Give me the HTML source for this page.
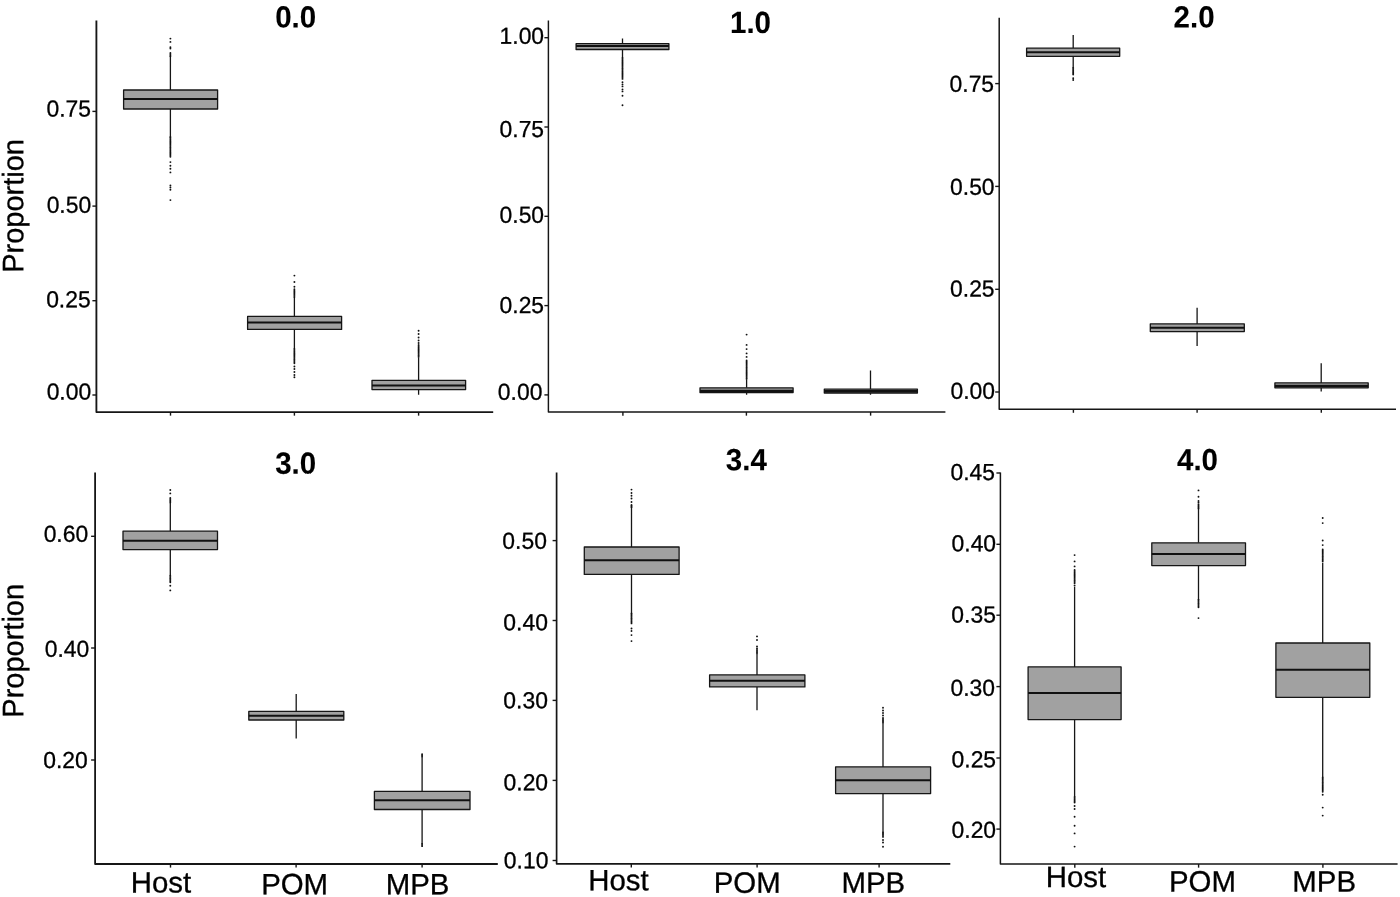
<!DOCTYPE html>
<html lang="en"><head><meta charset="utf-8"><title>Proportion box plots</title>
<style>html,body{margin:0;padding:0;background:#fff}svg{display:block}text{font-family:"Liberation Sans",Arial,Helvetica,sans-serif;text-rendering:geometricPrecision;fill:#000;stroke:#000;stroke-width:0.3px}.yl{font-size:22.9px;text-anchor:end}.xl{font-size:29.4px;text-anchor:middle}.tt{font-size:29.5px;font-weight:bold;text-anchor:middle;stroke-width:0.1px}.ax{stroke:#161616;stroke-width:1.6;fill:none;stroke-linejoin:round}.tk{stroke:#161616;stroke-width:1.4;fill:none}.bx{fill:#a1a1a1;stroke:#161616;stroke-width:1.3;stroke-linejoin:round}.md{stroke:#111;stroke-width:2;fill:none}.wk{stroke:#161616;stroke-width:1.3;fill:none}.pt{fill:#111}</style></head><body>
<svg width="1400" height="897" viewBox="0 0 1400 897">
<rect width="1400" height="897" fill="#fff"/>
<text transform="translate(23.3,205.9) rotate(-90.03) scale(1,1.02)" style="font-size:29.0px;text-anchor:middle">Proportion</text>
<text transform="translate(23.3,650.8) rotate(-90.03) scale(1,1.02)" style="font-size:29.0px;text-anchor:middle">Proportion</text>
<g>
<path class="ax" style="stroke-width:1.85" d="M96.4,20.5V412.05H493.2"/>
<path class="tk" d="M92.4,111.4H96.4"/>
<text class="yl" transform="translate(91.0,116.45) rotate(0.03) scale(1,1.01)">0.75</text>
<path class="tk" d="M92.4,206.1H96.4"/>
<text class="yl" transform="translate(91.2,212.75) rotate(0.03) scale(1,1.01)">0.50</text>
<path class="tk" d="M92.4,300.7H96.4"/>
<text class="yl" transform="translate(90.7,307.25) rotate(0.03) scale(1,1.01)">0.25</text>
<path class="tk" d="M92.4,395.0H96.4"/>
<text class="yl" transform="translate(91.2,399.55) rotate(0.03) scale(1,1.01)">0.00</text>
<path class="tk" d="M170.5,412.05V415.65000000000003"/>
<path class="tk" d="M294.4,412.05V415.65000000000003"/>
<path class="tk" d="M418.6,412.05V415.65000000000003"/>
<text class="tt" transform="translate(295.7,27.6) rotate(0.03) scale(1,1.04)">0.0</text>
<path class="wk" d="M170.4,56V90M170.4,109V138"/>
<rect class="bx" x="123.6" y="90" width="94.0" height="19.0"/>
<path class="md" style="stroke-width:2" d="M123.6,98.9H217.6"/>
<g class="pt"><circle cx="170.4" cy="38.6" r="0.95"/><circle cx="170.4" cy="41.9" r="0.95"/><circle cx="170.4" cy="47.2" r="0.95"/><circle cx="170.4" cy="48.6" r="0.95"/><circle cx="170.4" cy="162.1" r="0.95"/><circle cx="170.4" cy="165.8" r="0.95"/><circle cx="170.4" cy="168.8" r="0.95"/><circle cx="170.4" cy="172.4" r="0.95"/><circle cx="170.4" cy="185.5" r="0.95"/><circle cx="170.4" cy="187.5" r="0.95"/><circle cx="170.4" cy="189.7" r="0.95"/><circle cx="170.4" cy="200.1" r="0.95"/><circle cx="170.4" cy="53.0" r="0.92"/><circle cx="170.4" cy="54.1" r="0.92"/><circle cx="170.4" cy="55.2" r="0.92"/><circle cx="170.4" cy="56.3" r="0.92"/><circle cx="170.4" cy="137.0" r="0.92"/><circle cx="170.4" cy="138.1" r="0.92"/><circle cx="170.4" cy="139.2" r="0.92"/><circle cx="170.4" cy="140.3" r="0.92"/><circle cx="170.4" cy="141.4" r="0.92"/><circle cx="170.4" cy="142.5" r="0.92"/><circle cx="170.4" cy="143.6" r="0.92"/><circle cx="170.4" cy="144.7" r="0.92"/><circle cx="170.4" cy="145.8" r="0.92"/><circle cx="170.4" cy="146.9" r="0.92"/><circle cx="170.4" cy="148.0" r="0.92"/><circle cx="170.4" cy="149.1" r="0.92"/><circle cx="170.4" cy="150.2" r="0.92"/><circle cx="170.4" cy="151.3" r="0.92"/><circle cx="170.4" cy="152.4" r="0.92"/><circle cx="170.4" cy="153.5" r="0.92"/><circle cx="170.4" cy="154.6" r="0.92"/><circle cx="170.4" cy="155.7" r="0.92"/><circle cx="170.4" cy="156.8" r="0.92"/></g>
<path class="wk" d="M294.4,297V316.4M294.4,329.4V349"/>
<rect class="bx" x="247.6" y="316.4" width="94.0" height="13.0"/>
<path class="md" style="stroke-width:2" d="M247.6,322.6H341.6"/>
<g class="pt"><circle cx="294.4" cy="275.6" r="0.95"/><circle cx="294.4" cy="282.0" r="0.95"/><circle cx="294.4" cy="286.7" r="0.95"/><circle cx="294.4" cy="366.5" r="0.95"/><circle cx="294.4" cy="369.0" r="0.95"/><circle cx="294.4" cy="372.0" r="0.95"/><circle cx="294.4" cy="375.0" r="0.95"/><circle cx="294.4" cy="377.3" r="0.95"/><circle cx="294.4" cy="289.2" r="0.92"/><circle cx="294.4" cy="290.3" r="0.92"/><circle cx="294.4" cy="291.4" r="0.92"/><circle cx="294.4" cy="292.5" r="0.92"/><circle cx="294.4" cy="293.6" r="0.92"/><circle cx="294.4" cy="294.7" r="0.92"/><circle cx="294.4" cy="295.8" r="0.92"/><circle cx="294.4" cy="296.9" r="0.92"/><circle cx="294.4" cy="349.0" r="0.92"/><circle cx="294.4" cy="350.1" r="0.92"/><circle cx="294.4" cy="351.2" r="0.92"/><circle cx="294.4" cy="352.3" r="0.92"/><circle cx="294.4" cy="353.4" r="0.92"/><circle cx="294.4" cy="354.5" r="0.92"/><circle cx="294.4" cy="355.6" r="0.92"/><circle cx="294.4" cy="356.7" r="0.92"/><circle cx="294.4" cy="357.8" r="0.92"/><circle cx="294.4" cy="358.9" r="0.92"/><circle cx="294.4" cy="360.0" r="0.92"/><circle cx="294.4" cy="361.1" r="0.92"/><circle cx="294.4" cy="362.2" r="0.92"/><circle cx="294.4" cy="363.3" r="0.92"/></g>
<path class="wk" d="M418.6,358V380.3M418.6,389.6V394.8"/>
<rect class="bx" x="372" y="380.3" width="93.6" height="9.3"/>
<path class="md" style="stroke-width:2" d="M372,385.6H465.6"/>
<g class="pt"><circle cx="418.6" cy="330.8" r="0.95"/><circle cx="418.6" cy="334.0" r="0.95"/><circle cx="418.6" cy="337.5" r="0.95"/><circle cx="418.6" cy="340.5" r="0.95"/><circle cx="418.6" cy="343.0" r="0.95"/><circle cx="418.6" cy="345.0" r="0.92"/><circle cx="418.6" cy="346.1" r="0.92"/><circle cx="418.6" cy="347.2" r="0.92"/><circle cx="418.6" cy="348.3" r="0.92"/><circle cx="418.6" cy="349.4" r="0.92"/><circle cx="418.6" cy="350.5" r="0.92"/><circle cx="418.6" cy="351.6" r="0.92"/><circle cx="418.6" cy="352.7" r="0.92"/><circle cx="418.6" cy="353.8" r="0.92"/><circle cx="418.6" cy="354.9" r="0.92"/><circle cx="418.6" cy="356.0" r="0.92"/><circle cx="418.6" cy="357.1" r="0.92"/></g>
</g>
<g>
<path class="ax" style="stroke-width:1.45" d="M548.4,20.5V412.05H945.4"/>
<path class="tk" d="M544.4,37.7H548.4"/>
<text class="yl" transform="translate(544.1,43.85) rotate(0.03) scale(1,1.01)">1.00</text>
<path class="tk" d="M544.4,127.0H548.4"/>
<text class="yl" transform="translate(544.1,137.05) rotate(0.03) scale(1,1.01)">0.75</text>
<path class="tk" d="M544.4,216.3H548.4"/>
<text class="yl" transform="translate(544.1,222.75) rotate(0.03) scale(1,1.01)">0.50</text>
<path class="tk" d="M544.4,305.6H548.4"/>
<text class="yl" transform="translate(544.1,312.95) rotate(0.03) scale(1,1.01)">0.25</text>
<path class="tk" d="M544.4,394.9H548.4"/>
<text class="yl" transform="translate(542.4,399.65) rotate(0.03) scale(1,1.01)">0.00</text>
<path class="tk" d="M622.9,412.05V415.65000000000003"/>
<path class="tk" d="M746.4,412.05V415.65000000000003"/>
<path class="tk" d="M870.6,412.05V415.65000000000003"/>
<text class="tt" transform="translate(750.5,33) rotate(0.03) scale(1,1.04)">1.0</text>
<path class="wk" d="M622.5,38.4V43.7M622.5,49.5V58"/>
<rect class="bx" x="576.1" y="43.7" width="92.8" height="5.8"/>
<path class="md" style="stroke-width:2" d="M576.1,45.9H668.9"/>
<g class="pt"><circle cx="622.5" cy="82.2" r="0.95"/><circle cx="622.5" cy="84.4" r="0.95"/><circle cx="622.5" cy="86.4" r="0.95"/><circle cx="622.5" cy="89.4" r="0.95"/><circle cx="622.5" cy="91.4" r="0.95"/><circle cx="622.5" cy="95.7" r="0.95"/><circle cx="622.5" cy="105.2" r="0.95"/><circle cx="622.5" cy="58.0" r="0.92"/><circle cx="622.5" cy="59.1" r="0.92"/><circle cx="622.5" cy="60.2" r="0.92"/><circle cx="622.5" cy="61.3" r="0.92"/><circle cx="622.5" cy="62.4" r="0.92"/><circle cx="622.5" cy="63.5" r="0.92"/><circle cx="622.5" cy="64.6" r="0.92"/><circle cx="622.5" cy="65.7" r="0.92"/><circle cx="622.5" cy="66.8" r="0.92"/><circle cx="622.5" cy="67.9" r="0.92"/><circle cx="622.5" cy="69.0" r="0.92"/><circle cx="622.5" cy="70.1" r="0.92"/><circle cx="622.5" cy="71.2" r="0.92"/><circle cx="622.5" cy="72.3" r="0.92"/><circle cx="622.5" cy="73.4" r="0.92"/><circle cx="622.5" cy="74.5" r="0.92"/><circle cx="622.5" cy="75.6" r="0.92"/><circle cx="622.5" cy="76.7" r="0.92"/><circle cx="622.5" cy="77.8" r="0.92"/><circle cx="622.5" cy="78.9" r="0.92"/></g>
<path class="wk" d="M746.6,380V387.8M746.6,392.6V394.8"/>
<rect class="bx" x="700.0" y="387.8" width="93.1" height="4.8"/>
<path class="md" style="stroke-width:2.6" d="M700.0,391.0H793.1"/>
<g class="pt"><circle cx="746.6" cy="334.6" r="0.95"/><circle cx="746.6" cy="344.9" r="0.95"/><circle cx="746.6" cy="349.1" r="0.95"/><circle cx="746.6" cy="353.4" r="0.95"/><circle cx="746.6" cy="356.9" r="0.95"/><circle cx="746.6" cy="360.3" r="0.92"/><circle cx="746.6" cy="361.4" r="0.92"/><circle cx="746.6" cy="362.5" r="0.92"/><circle cx="746.6" cy="363.6" r="0.92"/><circle cx="746.6" cy="364.7" r="0.92"/><circle cx="746.6" cy="365.8" r="0.92"/><circle cx="746.6" cy="366.9" r="0.92"/><circle cx="746.6" cy="368.0" r="0.92"/><circle cx="746.6" cy="369.1" r="0.92"/><circle cx="746.6" cy="370.2" r="0.92"/><circle cx="746.6" cy="371.3" r="0.92"/><circle cx="746.6" cy="372.4" r="0.92"/><circle cx="746.6" cy="373.5" r="0.92"/><circle cx="746.6" cy="374.6" r="0.92"/><circle cx="746.6" cy="375.7" r="0.92"/><circle cx="746.6" cy="376.8" r="0.92"/><circle cx="746.6" cy="377.9" r="0.92"/><circle cx="746.6" cy="379.0" r="0.92"/></g>
<path class="wk" d="M870.5,370.6V389.2M870.5,393.1V394.8"/>
<rect class="bx" x="824.3" y="389.2" width="93.1" height="3.9"/>
<path class="md" style="stroke-width:2.8" d="M824.3,391.3H917.4"/>
</g>
<g>
<path class="ax" style="stroke-width:1.5" d="M999.2,17.8V409.2H1396.0"/>
<path class="tk" d="M995.2,83.6H999.2"/>
<text class="yl" transform="translate(994.1,91.65) rotate(0.03) scale(1,1.01)">0.75</text>
<path class="tk" d="M995.2,186.4H999.2"/>
<text class="yl" transform="translate(994.6,194.65) rotate(0.03) scale(1,1.01)">0.50</text>
<path class="tk" d="M995.2,289.3H999.2"/>
<text class="yl" transform="translate(994.6,296.55) rotate(0.03) scale(1,1.01)">0.25</text>
<path class="tk" d="M995.2,392.0H999.2"/>
<text class="yl" transform="translate(995.0,398.65) rotate(0.03) scale(1,1.01)">0.00</text>
<path class="tk" d="M1073.4,409.2V412.8"/>
<path class="tk" d="M1197.1,409.2V412.8"/>
<path class="tk" d="M1321.3,409.2V412.8"/>
<text class="tt" transform="translate(1194.1,27.6) rotate(0.03) scale(1,1.04)">2.0</text>
<path class="wk" d="M1073.2,35.1V48.2M1073.2,56.3V68"/>
<rect class="bx" x="1026.6" y="48.2" width="93.1" height="8.1"/>
<path class="md" style="stroke-width:2" d="M1026.6,52.3H1119.7"/>
<g class="pt"><circle cx="1073.2" cy="78.2" r="0.95"/><circle cx="1073.2" cy="80.0" r="0.95"/><circle cx="1073.2" cy="68.0" r="0.92"/><circle cx="1073.2" cy="69.1" r="0.92"/><circle cx="1073.2" cy="70.2" r="0.92"/><circle cx="1073.2" cy="71.3" r="0.92"/><circle cx="1073.2" cy="72.4" r="0.92"/><circle cx="1073.2" cy="73.5" r="0.92"/><circle cx="1073.2" cy="74.6" r="0.92"/></g>
<path class="wk" d="M1197.1,307.7V323.9M1197.1,331.6V345.9"/>
<rect class="bx" x="1150.3" y="323.9" width="94.0" height="7.7"/>
<path class="md" style="stroke-width:2" d="M1150.3,327.7H1244.3"/>
<path class="wk" d="M1321.2,363.3V382.9M1321.2,387.8V391.6"/>
<rect class="bx" x="1274.9" y="382.9" width="93.3" height="4.9"/>
<path class="md" style="stroke-width:2.6" d="M1274.9,386.0H1368.2"/>
</g>
<g>
<path class="ax" style="stroke-width:1.8" d="M95.1,472.6V864.0H497.8"/>
<path class="tk" d="M91.1,536.3H95.1"/>
<text class="yl" transform="translate(88.2,541.65) rotate(0.03) scale(1,1.01)">0.60</text>
<path class="tk" d="M91.1,648.0H95.1"/>
<text class="yl" transform="translate(89.3,656.65) rotate(0.03) scale(1,1.01)">0.40</text>
<path class="tk" d="M91.1,760.0H95.1"/>
<text class="yl" transform="translate(87.8,767.95) rotate(0.03) scale(1,1.01)">0.20</text>
<path class="tk" d="M170.5,864.0V867.6"/>
<path class="tk" d="M296.1,864.0V867.6"/>
<path class="tk" d="M422.1,864.0V867.6"/>
<text class="tt" transform="translate(295.7,473.7) rotate(0.03) scale(1,1.04)">3.0</text>
<text class="xl" transform="translate(160.9,892.5) rotate(0.03)">Host</text>
<text class="xl" transform="translate(294.6,894.3) rotate(0.03)">POM</text>
<text class="xl" transform="translate(417.6,894.3) rotate(0.03)">MPB</text>
<path class="wk" d="M170.3,503V531.2M170.3,549.6V575.7"/>
<rect class="bx" x="123.0" y="531.2" width="94.5" height="18.4"/>
<path class="md" style="stroke-width:2" d="M123.0,540.8H217.5"/>
<g class="pt"><circle cx="170.3" cy="490.0" r="0.95"/><circle cx="170.3" cy="493.4" r="0.95"/><circle cx="170.3" cy="585.7" r="0.95"/><circle cx="170.3" cy="590.4" r="0.95"/><circle cx="170.3" cy="498.0" r="0.92"/><circle cx="170.3" cy="499.1" r="0.92"/><circle cx="170.3" cy="500.2" r="0.92"/><circle cx="170.3" cy="501.3" r="0.92"/><circle cx="170.3" cy="502.4" r="0.92"/><circle cx="170.3" cy="575.7" r="0.92"/><circle cx="170.3" cy="576.8" r="0.92"/><circle cx="170.3" cy="577.9" r="0.92"/><circle cx="170.3" cy="579.0" r="0.92"/><circle cx="170.3" cy="580.1" r="0.92"/><circle cx="170.3" cy="581.2" r="0.92"/><circle cx="170.3" cy="582.3" r="0.92"/></g>
<path class="wk" d="M296.2,694.1V711.4M296.2,720V738.4"/>
<rect class="bx" x="248.8" y="711.4" width="95.0" height="8.6"/>
<path class="md" style="stroke-width:2" d="M248.8,715.7H343.8"/>
<path class="wk" d="M422.1,757V791.4M422.1,809.5V844"/>
<rect class="bx" x="374.4" y="791.4" width="95.6" height="18.1"/>
<path class="md" style="stroke-width:2" d="M374.4,800.2H470"/>
<g class="pt"><circle cx="422.1" cy="754.2" r="0.92"/><circle cx="422.1" cy="755.3" r="0.92"/><circle cx="422.1" cy="756.4" r="0.92"/><circle cx="422.1" cy="844.0" r="0.92"/><circle cx="422.1" cy="845.1" r="0.92"/><circle cx="422.1" cy="846.2" r="0.92"/></g>
</g>
<g>
<path class="ax" style="stroke-width:1.7" d="M556.6,472.6V863.8H950.3"/>
<path class="tk" d="M552.6,540.6H556.6"/>
<text class="yl" transform="translate(546.9,548.65) rotate(0.03) scale(1,1.01)">0.50</text>
<path class="tk" d="M552.6,620.5H556.6"/>
<text class="yl" transform="translate(547.9,630.15) rotate(0.03) scale(1,1.01)">0.40</text>
<path class="tk" d="M552.6,700.4H556.6"/>
<text class="yl" transform="translate(547.9,708.15) rotate(0.03) scale(1,1.01)">0.30</text>
<path class="tk" d="M552.6,780.4H556.6"/>
<text class="yl" transform="translate(548.1,790.25) rotate(0.03) scale(1,1.01)">0.20</text>
<path class="tk" d="M552.6,860.5H556.6"/>
<text class="yl" transform="translate(548.4,868.15) rotate(0.03) scale(1,1.01)">0.10</text>
<path class="tk" d="M631.3,863.8V867.4"/>
<path class="tk" d="M757.1,863.8V867.4"/>
<path class="tk" d="M879.1,863.8V867.4"/>
<text class="tt" transform="translate(746.3,470.2) rotate(0.03) scale(1,1.04)">3.4</text>
<text class="xl" transform="translate(618.5,890.3) rotate(0.03)">Host</text>
<text class="xl" transform="translate(747.2,892.7) rotate(0.03)">POM</text>
<text class="xl" transform="translate(873.3,892.7) rotate(0.03)">MPB</text>
<path class="wk" d="M631.5,505V547M631.5,574.4V614"/>
<rect class="bx" x="584.3" y="547" width="94.8" height="27.4"/>
<path class="md" style="stroke-width:2" d="M584.3,560.3H679.1"/>
<g class="pt"><circle cx="631.5" cy="489.6" r="0.95"/><circle cx="631.5" cy="493.0" r="0.95"/><circle cx="631.5" cy="495.7" r="0.95"/><circle cx="631.5" cy="498.5" r="0.95"/><circle cx="631.5" cy="502.0" r="0.95"/><circle cx="631.5" cy="628.5" r="0.95"/><circle cx="631.5" cy="631.0" r="0.95"/><circle cx="631.5" cy="635.1" r="0.95"/><circle cx="631.5" cy="641.1" r="0.95"/><circle cx="631.5" cy="505.0" r="0.92"/><circle cx="631.5" cy="506.1" r="0.92"/><circle cx="631.5" cy="507.2" r="0.92"/><circle cx="631.5" cy="613.5" r="0.92"/><circle cx="631.5" cy="614.6" r="0.92"/><circle cx="631.5" cy="615.7" r="0.92"/><circle cx="631.5" cy="616.8" r="0.92"/><circle cx="631.5" cy="617.9" r="0.92"/><circle cx="631.5" cy="619.0" r="0.92"/><circle cx="631.5" cy="620.1" r="0.92"/><circle cx="631.5" cy="621.2" r="0.92"/><circle cx="631.5" cy="622.3" r="0.92"/><circle cx="631.5" cy="623.4" r="0.92"/></g>
<path class="wk" d="M757,654V674.9M757,686.9V710.3"/>
<rect class="bx" x="709.6" y="674.9" width="95.3" height="12.0"/>
<path class="md" style="stroke-width:2" d="M709.6,680.8H804.9"/>
<g class="pt"><circle cx="757.0" cy="636.4" r="0.95"/><circle cx="757.0" cy="640.0" r="0.95"/><circle cx="757.0" cy="646.5" r="0.95"/><circle cx="757.0" cy="648.5" r="0.95"/><circle cx="757.0" cy="650.0" r="0.92"/><circle cx="757.0" cy="651.1" r="0.92"/><circle cx="757.0" cy="652.2" r="0.92"/><circle cx="757.0" cy="653.3" r="0.92"/></g>
<path class="wk" d="M883,722.9V766.9M883,793.6V832.5"/>
<rect class="bx" x="835.6" y="766.9" width="95.0" height="26.7"/>
<path class="md" style="stroke-width:2" d="M835.6,780.2H930.6"/>
<g class="pt"><circle cx="883.0" cy="707.8" r="0.95"/><circle cx="883.0" cy="710.5" r="0.95"/><circle cx="883.0" cy="713.0" r="0.95"/><circle cx="883.0" cy="715.5" r="0.95"/><circle cx="883.0" cy="840.0" r="0.95"/><circle cx="883.0" cy="842.5" r="0.95"/><circle cx="883.0" cy="846.8" r="0.95"/><circle cx="883.0" cy="718.0" r="0.92"/><circle cx="883.0" cy="719.1" r="0.92"/><circle cx="883.0" cy="720.2" r="0.92"/><circle cx="883.0" cy="721.3" r="0.92"/><circle cx="883.0" cy="722.4" r="0.92"/><circle cx="883.0" cy="832.5" r="0.92"/><circle cx="883.0" cy="833.6" r="0.92"/><circle cx="883.0" cy="834.7" r="0.92"/><circle cx="883.0" cy="835.8" r="0.92"/><circle cx="883.0" cy="836.9" r="0.92"/></g>
</g>
<g>
<path class="ax" style="stroke-width:1.5" d="M1000.4,472.6V864.05H1397.6"/>
<path class="tk" d="M996.4,473.0H1000.4"/>
<text class="yl" transform="translate(995.0,479.95) rotate(0.03) scale(1,1.01)">0.45</text>
<path class="tk" d="M996.4,544.3H1000.4"/>
<text class="yl" transform="translate(996.1,551.35) rotate(0.03) scale(1,1.01)">0.40</text>
<path class="tk" d="M996.4,615.2H1000.4"/>
<text class="yl" transform="translate(995.9,622.55) rotate(0.03) scale(1,1.01)">0.35</text>
<path class="tk" d="M996.4,686.6H1000.4"/>
<text class="yl" transform="translate(995.0,695.65) rotate(0.03) scale(1,1.01)">0.30</text>
<path class="tk" d="M996.4,758.0H1000.4"/>
<text class="yl" transform="translate(996.1,767.15) rotate(0.03) scale(1,1.01)">0.25</text>
<path class="tk" d="M996.4,829.1H1000.4"/>
<text class="yl" transform="translate(996.1,837.75) rotate(0.03) scale(1,1.01)">0.20</text>
<path class="tk" d="M1074.8,864.05V867.65"/>
<path class="tk" d="M1198.6,864.05V867.65"/>
<path class="tk" d="M1322.9,864.05V867.65"/>
<text class="tt" transform="translate(1197.5,470.2) rotate(0.03) scale(1,1.04)">4.0</text>
<text class="xl" transform="translate(1075.9,887) rotate(0.03)">Host</text>
<text class="xl" transform="translate(1202.4,891.6) rotate(0.03)">POM</text>
<text class="xl" transform="translate(1324.2,891.6) rotate(0.03)">MPB</text>
<path class="wk" d="M1074.6,586.7V666.9M1074.6,719.6V797"/>
<rect class="bx" x="1028.1" y="666.9" width="93.0" height="52.7"/>
<path class="md" style="stroke-width:2.2" d="M1028.1,693.0H1121.1"/>
<g class="pt"><circle cx="1074.6" cy="555.1" r="0.95"/><circle cx="1074.6" cy="561.4" r="0.95"/><circle cx="1074.6" cy="566.4" r="0.95"/><circle cx="1074.6" cy="585.5" r="0.95"/><circle cx="1074.6" cy="806.0" r="0.95"/><circle cx="1074.6" cy="809.0" r="0.95"/><circle cx="1074.6" cy="816.8" r="0.95"/><circle cx="1074.6" cy="825.7" r="0.95"/><circle cx="1074.6" cy="833.4" r="0.95"/><circle cx="1074.6" cy="846.6" r="0.95"/><circle cx="1074.6" cy="570.0" r="0.92"/><circle cx="1074.6" cy="571.1" r="0.92"/><circle cx="1074.6" cy="572.2" r="0.92"/><circle cx="1074.6" cy="573.3" r="0.92"/><circle cx="1074.6" cy="574.4" r="0.92"/><circle cx="1074.6" cy="575.5" r="0.92"/><circle cx="1074.6" cy="576.6" r="0.92"/><circle cx="1074.6" cy="577.7" r="0.92"/><circle cx="1074.6" cy="578.8" r="0.92"/><circle cx="1074.6" cy="579.9" r="0.92"/><circle cx="1074.6" cy="581.0" r="0.92"/><circle cx="1074.6" cy="582.1" r="0.92"/><circle cx="1074.6" cy="583.2" r="0.92"/><circle cx="1074.6" cy="797.0" r="0.92"/><circle cx="1074.6" cy="798.1" r="0.92"/><circle cx="1074.6" cy="799.2" r="0.92"/><circle cx="1074.6" cy="800.3" r="0.92"/><circle cx="1074.6" cy="801.4" r="0.92"/><circle cx="1074.6" cy="802.5" r="0.92"/></g>
<path class="wk" d="M1198.5,508.5V542.8M1198.5,565.6V600"/>
<rect class="bx" x="1151.8" y="542.8" width="93.7" height="22.8"/>
<path class="md" style="stroke-width:2" d="M1151.8,553.9H1245.5"/>
<g class="pt"><circle cx="1198.5" cy="490.4" r="0.95"/><circle cx="1198.5" cy="496.7" r="0.95"/><circle cx="1198.5" cy="501.0" r="0.95"/><circle cx="1198.5" cy="502.4" r="0.95"/><circle cx="1198.5" cy="618.1" r="0.95"/><circle cx="1198.5" cy="504.2" r="0.92"/><circle cx="1198.5" cy="505.3" r="0.92"/><circle cx="1198.5" cy="506.4" r="0.92"/><circle cx="1198.5" cy="507.5" r="0.92"/><circle cx="1198.5" cy="508.6" r="0.92"/><circle cx="1198.5" cy="599.6" r="0.92"/><circle cx="1198.5" cy="600.7" r="0.92"/><circle cx="1198.5" cy="601.8" r="0.92"/><circle cx="1198.5" cy="602.9" r="0.92"/><circle cx="1198.5" cy="604.0" r="0.92"/><circle cx="1198.5" cy="605.1" r="0.92"/><circle cx="1198.5" cy="606.2" r="0.92"/><circle cx="1198.5" cy="607.3" r="0.92"/></g>
<path class="wk" d="M1322.7,562.8V643M1322.7,697.3V777.5"/>
<rect class="bx" x="1275.9" y="643" width="93.9" height="54.3"/>
<path class="md" style="stroke-width:2" d="M1275.9,669.8H1369.8"/>
<g class="pt"><circle cx="1322.7" cy="518.0" r="0.95"/><circle cx="1322.7" cy="523.1" r="0.95"/><circle cx="1322.7" cy="540.5" r="0.95"/><circle cx="1322.7" cy="545.1" r="0.95"/><circle cx="1322.7" cy="794.7" r="0.95"/><circle cx="1322.7" cy="807.6" r="0.95"/><circle cx="1322.7" cy="815.6" r="0.95"/><circle cx="1322.7" cy="549.3" r="0.92"/><circle cx="1322.7" cy="550.4" r="0.92"/><circle cx="1322.7" cy="551.5" r="0.92"/><circle cx="1322.7" cy="552.6" r="0.92"/><circle cx="1322.7" cy="553.7" r="0.92"/><circle cx="1322.7" cy="554.8" r="0.92"/><circle cx="1322.7" cy="555.9" r="0.92"/><circle cx="1322.7" cy="557.0" r="0.92"/><circle cx="1322.7" cy="558.1" r="0.92"/><circle cx="1322.7" cy="559.2" r="0.92"/><circle cx="1322.7" cy="560.3" r="0.92"/><circle cx="1322.7" cy="561.4" r="0.92"/><circle cx="1322.7" cy="777.5" r="0.92"/><circle cx="1322.7" cy="778.6" r="0.92"/><circle cx="1322.7" cy="779.7" r="0.92"/><circle cx="1322.7" cy="780.8" r="0.92"/><circle cx="1322.7" cy="781.9" r="0.92"/><circle cx="1322.7" cy="783.0" r="0.92"/><circle cx="1322.7" cy="784.1" r="0.92"/><circle cx="1322.7" cy="785.2" r="0.92"/><circle cx="1322.7" cy="786.3" r="0.92"/><circle cx="1322.7" cy="787.4" r="0.92"/><circle cx="1322.7" cy="788.5" r="0.92"/><circle cx="1322.7" cy="789.6" r="0.92"/><circle cx="1322.7" cy="790.7" r="0.92"/><circle cx="1322.7" cy="791.8" r="0.92"/></g>
</g>
</svg></body></html>
